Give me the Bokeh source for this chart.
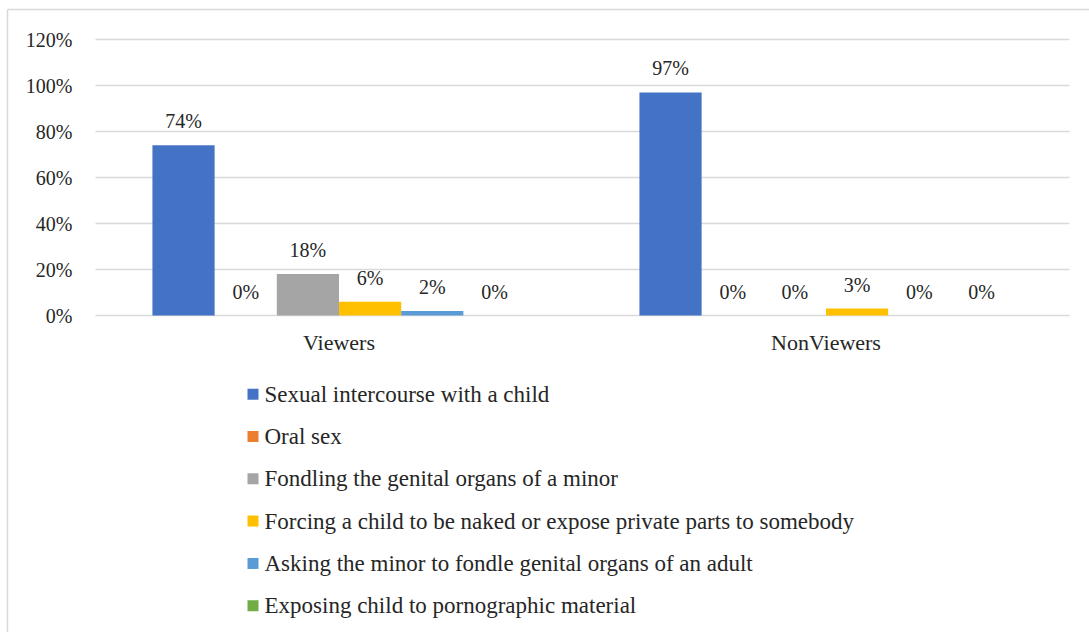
from bokeh.plotting import figure
from bokeh.models import ColumnDataSource, FactorRange, Range1d, LinearScale
from bokeh.transform import dodge
from bokeh.core.properties import value
from bokeh.embed import file_html
from bokeh.resources import INLINE

categories = ["Viewers", "NonViewers"]
series_names = [
    "Sexual intercourse with a child",
    "Oral sex",
    "Fondling the genital organs of a minor",
    "Forcing a child to be naked or expose private parts to somebody",
    "Asking the minor to fondle genital organs of an adult",
    "Exposing child to pornographic material",
]
sexual_intercourse = [74, 97]
oral_sex = [0, 0]
fondling = [18, 0]
forcing_naked = [6, 3]
asking_fondle = [2, 0]
exposing_porn = [0, 0]
series_values = [sexual_intercourse, oral_sex, fondling, forcing_naked, asking_fondle, exposing_porn]
colors = ["#4472C4", "#ED7D31", "#A5A5A5", "#FFC000", "#5B9BD5", "#70AD47"]
y_ticks = [0, 20, 40, 60, 80, 100, 120]
y_tick_labels = ["0%", "20%", "40%", "60%", "80%", "100%", "120%"]

# ---- layout constants (pixels) ----
W, H = 1089, 632
PLOT_LEFT, PLOT_RIGHT = 95, 1069
Y_ZERO_PX, Y_TOP_PX = 315, 39          # pixel rows of 0% and 120%
CAT_PX = (PLOT_RIGHT - PLOT_LEFT) / len(categories)
PX_PER_UNIT = (Y_ZERO_PX - Y_TOP_PX) / 120.0
FONT = "Liberation Serif"
TXT = "#262626"
GRID = "#d9d9d9"

pad = (W / CAT_PX - len(categories)) / 2          # per side, in category units
shift = (PLOT_LEFT - pad * CAT_PX) / CAT_PX        # move groups to the plot-area position


def sx(px):
    """pixel column -> synthetic categorical coordinate"""
    return px / CAT_PX - pad


y_top = 120 + Y_TOP_PX / PX_PER_UNIT
y_bot = -(H - Y_ZERO_PX) / PX_PER_UNIT

data = {"cat": categories}
for i, vals in enumerate(series_values):
    data[f"s{i}"] = vals
    data[f"l{i}"] = [f"{v}%" for v in vals]
src = ColumnDataSource(data)

p = figure(x_range=FactorRange(factors=categories, range_padding=pad, range_padding_units="percent"),
           y_range=Range1d(y_bot, y_top),
           width=W, height=H, output_backend="svg", toolbar_location=None,
           x_axis_location=None, y_axis_location=None, min_border=0)
p.extra_y_ranges = {"px": Range1d(H, 0)}
p.extra_y_scales = {"px": LinearScale()}
p.outline_line_color = None
p.grid.visible = False
p.background_fill_color = "white"

# outer chart-area border (top and left edges visible)
p.segment(x0=[sx(7), sx(7)], y0=[9, 9], x1=[sx(W + 5), sx(7)], y1=[9, H + 5], y_range_name="px",
          line_color=GRID, line_width=1.5)

# horizontal gridlines at the y ticks
n_t = len(y_ticks)
p.segment(x0=[sx(PLOT_LEFT)] * n_t, x1=[sx(PLOT_RIGHT)] * n_t, y0=y_ticks, y1=y_ticks,
          line_color=GRID, line_width=1.5)

# y tick labels
p.text(x=[sx(PLOT_LEFT - 23)] * n_t, y=y_ticks, text=y_tick_labels,
       text_align="right", text_baseline="middle",
       text_font=value(FONT), text_font_size="20px", text_color=TXT)

bar_w = 0.1277
n = len(series_values)
for i in range(n):
    off = shift + (i - (n - 1) / 2) * bar_w
    p.vbar(x=dodge("cat", off, range=p.x_range), top=f"s{i}", bottom=0, width=bar_w, source=src,
           fill_color=colors[i], line_color=None)
    p.text(x=dodge("cat", off, range=p.x_range), y=f"s{i}", text=f"l{i}", source=src,
           text_align="center", text_baseline="middle", y_offset=-24,
           text_font=value(FONT), text_font_size="20px", text_color=TXT)

# category labels
p.text(x=dodge("cat", shift, range=p.x_range), y=0, text="cat", source=src,
       text_align="center", text_baseline="middle", y_offset=27,
       text_font=value(FONT), text_font_size="22px", text_color=TXT)

# legend (vertical list below the plot)
LEG_Y0, LEG_DY = 393.7, 42.3
leg_y = [LEG_Y0 + LEG_DY * i for i in range(n)]
p.quad(left=[sx(247)] * n, right=[sx(258)] * n,
       top=[y - 5.5 for y in leg_y], bottom=[y + 5.5 for y in leg_y],
       fill_color=colors, line_color=None, y_range_name="px")
p.text(x=[sx(264)] * n, y=leg_y, text=series_names, y_range_name="px",
       text_align="left", text_baseline="middle",
       text_font=value(FONT), text_font_size="23px", text_color=TXT)

open("out.html", "w").write(file_html(p, INLINE))
